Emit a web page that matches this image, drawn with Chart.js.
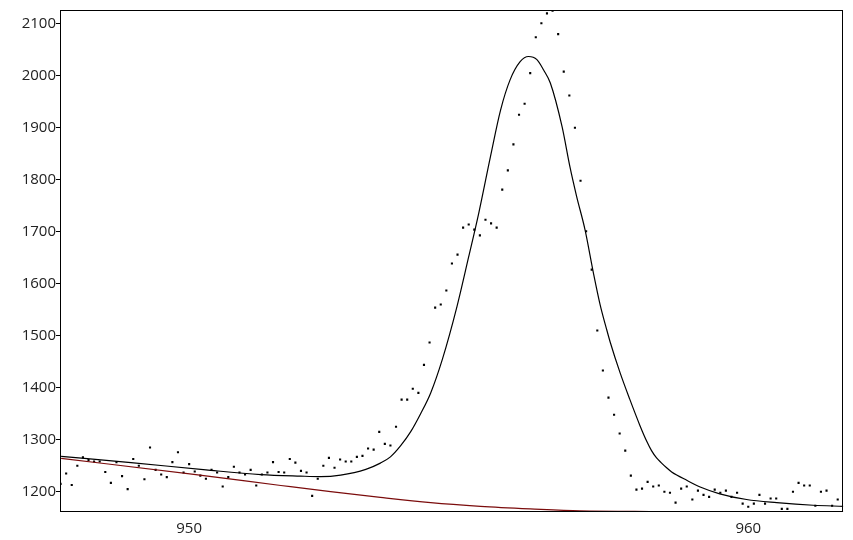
<!DOCTYPE html>
<html>
<head>
<meta charset="utf-8">
<script src="https://cdn.jsdelivr.net/npm/chart.js@4/dist/chart.umd.min.js"></script>
<style>
html,body{margin:0;padding:0;background:#fff;}
#wrap{width:853px;height:540px;}
</style>
</head>
<body>
<div id="wrap"><canvas id="c" width="853" height="540"></canvas></div>
<script>
// measured spectrum (binding energy, counts)
var energies=[947.7,947.8,947.9,948.0,948.1,948.2,948.3,948.4,948.5,948.6,
948.7,948.8,948.9,949.0,949.1,949.2,949.3,949.4,949.5,949.6,
949.7,949.8,949.9,950.0,950.1,950.2,950.3,950.4,950.5,950.6,
950.7,950.8,950.9,951.0,951.1,951.2,951.3,951.4,951.5,951.6,
951.7,951.8,951.9,952.0,952.1,952.2,952.3,952.4,952.5,952.6,
952.7,952.8,952.9,953.0,953.1,953.2,953.3,953.4,953.5,953.6,
953.7,953.8,953.9,954.0,954.1,954.2,954.3,954.4,954.5,954.6,
954.7,954.8,954.9,955.0,955.1,955.2,955.3,955.4,955.5,955.6,
955.7,955.8,955.9,956.0,956.1,956.2,956.3,956.4,956.5,956.6,
956.7,956.8,956.9,957.0,957.1,957.2,957.3,957.4,957.5,957.6,
957.7,957.8,957.9,958.0,958.1,958.2,958.3,958.4,958.5,958.6,
958.7,958.8,958.9,959.0,959.1,959.2,959.3,959.4,959.5,959.6,
959.7,959.8,959.9,960.0,960.1,960.2,960.3,960.4,960.5,960.6,
960.7,960.8,960.9,961.0,961.1,961.2,961.3,961.4,961.5,961.6];
var counts=[1215,1235,1213,1250,1266,1261,1258,1258,1238,1217,
1257,1230,1205,1263,1250,1224,1285,1242,1233,1228,
1257,1276,1237,1253,1239,1231,1225,1242,1237,1210,
1228,1248,1237,1233,1242,1212,1233,1237,1257,1238,
1237,1263,1256,1240,1237,1192,1225,1250,1265,1246,
1262,1258,1258,1267,1269,1283,1281,1315,1292,1289,
1325,1377,1377,1398,1390,1444,1487,1554,1560,1587,
1639,1656,1708,1714,1704,1693,1723,1716,1708,1781,
1818,1868,1925,1946,2005,2074,2101,2120,2125,2080,
2008,1962,1900,1798,1701,1627,1510,1433,1381,1348,
1312,1279,1231,1204,1206,1219,1210,1212,1200,1198,
1179,1206,1210,1185,1202,1194,1190,1204,1198,1202,
1190,1198,1177,1171,1177,1194,1177,1187,1187,1167,
1167,1200,1217,1212,1212,1173,1200,1202,1173,1185];

// fitted envelope
var fitE=[947.71,948.96,950.30,951.28,951.99,952.35,952.71,953.16,953.42,953.60,
953.78,953.96,954.14,954.32,954.53,954.79,955.00,955.18,955.39,955.57,
955.74,955.92,956.07,956.22,956.34,956.46,956.67,956.81,956.93,957.08,
957.23,957.35,957.47,957.53,957.71,957.88,958.06,958.18,958.27,958.36,
958.45,958.54,958.63,958.72,958.90,959.14,959.49,959.97,960.51,961.16,961.70];
var fitV=[1268,1256,1242,1233,1230,1229,1232,1243,1255,1267,
1288,1315,1350,1390,1455,1556,1652,1736,1845,1934,
1992,2027,2037,2031,2011,1986,1902,1825,1768,1704,
1621,1560,1511,1488,1428,1378,1328,1298,1279,1265,
1255,1246,1238,1232,1222,1209,1196,1185,1179,1174,1172];

// background line
var bgE=[947.71,950.12,951.64,952.53,953.42,954.32,955.21,956.10,956.99,958.24,961.70];
var bgV=[1264,1233,1212,1200,1189,1179,1172,1167,1163,1162,1161.5];

var xTicks=[950,960];
var yTicks=[1200,1300,1400,1500,1600,1700,1800,1900,2000,2100];

function pts(xs,ys){ return xs.map(function(x,i){return {x:x,y:ys[i]};}); }
function plain(v){ return String(v); }

var framePlugin={
  id:'frame',
  afterDatasetsDraw:function(chart){
    var a=chart.chartArea,ctx=chart.ctx;
    ctx.save();
    ctx.strokeStyle='#000';ctx.lineWidth=1;
    ctx.strokeRect(Math.round(a.left)+0.5,Math.round(a.top)+0.5,Math.round(a.right-a.left)-1,Math.round(a.bottom-a.top)-1);
    ctx.restore();
  }
};

new Chart(document.getElementById('c').getContext('2d'),{
  type:'scatter',
  data:{datasets:[
    {data:pts(bgE,bgV),showLine:true,borderColor:'#7b0c0c',borderWidth:1.2,pointRadius:0,cubicInterpolationMode:'monotone'},
    {data:pts(fitE,fitV),showLine:true,borderColor:'#000',borderWidth:1.2,pointRadius:0,cubicInterpolationMode:'monotone'},
    {data:pts(energies,counts),showLine:false,pointStyle:'rect',pointRadius:1.5,backgroundColor:'#000',borderColor:'#000',borderWidth:0}
  ]},
  options:{
    responsive:false,animation:false,
    layout:{padding:{left:0,right:9.7,top:10,bottom:0}},
    plugins:{legend:{display:false},tooltip:{enabled:false}},
    scales:{
      x:{type:'linear',min:947.69,max:961.7,
        afterBuildTicks:function(s){s.ticks=xTicks.map(function(v){return {value:v};});},
        afterFit:function(s){s.height=28;},
        grid:{display:false,drawTicks:false},border:{display:false},
        ticks:{color:'#222',padding:8,callback:plain,font:{family:'Open Sans',size:15}}},
      y:{type:'linear',min:1161,max:2126.4,
        afterBuildTicks:function(s){s.ticks=yTicks.map(function(v){return {value:v};});},
        afterFit:function(s){s.width=60;},
        grid:{drawOnChartArea:false,drawTicks:true,tickLength:4,color:'#000'},border:{display:false},
        ticks:{color:'#222',padding:0,callback:plain,font:{family:'Open Sans',size:15}}}
    }
  },
  plugins:[framePlugin]
});
</script>
</body>
</html>
